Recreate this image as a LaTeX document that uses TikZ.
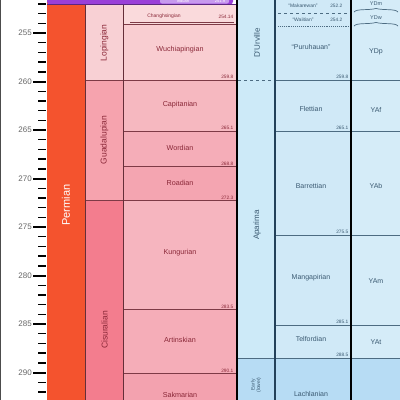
\documentclass[tikz,border=0pt]{standalone}
\usepackage{fontspec}
\setmainfont{Liberation Sans}
\definecolor{perm}{HTML}{F4532E}
\definecolor{trias}{HTML}{9A3FD8}
\definecolor{induan}{HTML}{C79AEE}
\definecolor{loping}{HTML}{F8D0D4}
\definecolor{guada}{HTML}{F6A3AE}
\definecolor{cisur}{HTML}{F37D8E}
\definecolor{chang}{HTML}{FADADC}
\definecolor{wuchi}{HTML}{F9CDD1}
\definecolor{capit}{HTML}{F6B8C0}
\definecolor{wordi}{HTML}{F5ADB8}
\definecolor{roadi}{HTML}{F4A5B1}
\definecolor{kungu}{HTML}{F6B5BF}
\definecolor{artin}{HTML}{F5ADB8}
\definecolor{sakma}{HTML}{F3A2AF}
\definecolor{bluea}{HTML}{CDEAF8}
\definecolor{blueb}{HTML}{D0E9F7}
\definecolor{bluec}{HTML}{D5ECF8}
\definecolor{blued}{HTML}{B7DCF4}
\definecolor{pinkline}{HTML}{7E3A46}
\definecolor{pinktext}{HTML}{8A2838}
\definecolor{navy}{HTML}{23415A}
\definecolor{blueline}{HTML}{4D6C82}
\definecolor{bluetext}{HTML}{3B5A72}
\tikzset{
  axlab/.style={anchor=east,text=black!60,font=\fontsize{8}{9}\selectfont,inner sep=0pt},
  majtick/.style={line width=2pt,black},
  mintick/.style={line width=1.4pt,black},
  epochlab/.style={rotate=90,text=pinktext,font=\fontsize{8.5}{9}\selectfont,inner sep=0pt},
  agelab/.style={text=pinktext,font=\fontsize{7.2}{8}\selectfont,inner sep=0pt},
  numlab/.style={anchor=south east,text=pinktext,font=\fontsize{4.8}{5}\selectfont,inner sep=0.5pt},
  nzlab/.style={text=bluetext,font=\fontsize{7}{8}\selectfont,inner sep=0pt},
  nznum/.style={anchor=south east,text=bluetext,font=\fontsize{4.8}{5}\selectfont,inner sep=0.5pt},
  serieslab/.style={rotate=90,text=bluetext,font=\fontsize{8}{9}\selectfont,inner sep=0pt},
  pline/.style={pinkline,line width=0.9pt},
  bline/.style={blueline,line width=0.9pt},
}
\begin{document}
\begin{tikzpicture}[x=1pt,y=-1pt]
\useasboundingbox (0,0) rectangle (400,400);
\fill[white] (0,0) rectangle (400,400);
\draw[black!70,line width=0.8pt] (0.4,0) -- (0.4,400);
% axis ticks
\foreach \t in {252,...,293}{
  \pgfmathsetmacro{\yy}{33+(\t-255)*9.7}
  \pgfmathtruncatemacro{\md}{mod(\t,5)}
  \ifnum\md=0
    \draw[majtick] (33,\yy) -- (46,\yy);
  \else
    \draw[mintick] (38,\yy) -- (46,\yy);
  \fi
}
\foreach \t/\yy in {255/33,260/81.5,265/130,270/178.5,275/227,280/275.5,285/324,290/372.5}{
  \node[axlab] (ax\t) at (32,\yy) {\t};
}
% Permian column
\fill[perm] (47,0) rectangle (85,400);
\node[rotate=90,text=white,font=\fontsize{11}{12}\selectfont,inner sep=0pt] (permian) at (66,205) {Permian};
% epochs
\fill[loping] (86,5) rectangle (123,80);
\fill[guada] (86,80) rectangle (123,200.8);
\fill[cisur] (86,200.8) rectangle (123,400);
\node[epochlab] (lop) at (104.5,43) {Lopingian};
\node[epochlab] (gua) at (104.5,140) {Guadalupian};
\node[epochlab] (cis) at (104.5,330) {Cisuralian};
% ages
\fill[chang] (124,5) rectangle (236,24.7);
\fill[wuchi] (124,24.7) rectangle (236,79.6);
\fill[capit] (124,79.6) rectangle (236,131);
\fill[wordi] (124,131) rectangle (236,166.9);
\fill[roadi] (124,166.9) rectangle (236,200.8);
\fill[kungu] (124,200.8) rectangle (236,309.5);
\fill[artin] (124,309.5) rectangle (236,373.5);
\fill[sakma] (124,373.5) rectangle (236,400);
% pink borders
\draw[pline] (86,80) -- (236,80);
\draw[pline] (86,200.8) -- (236,200.8);
\foreach \yy in {24.7,131,166.9,309.5,373.5}{\draw[pline] (124,\yy) -- (236,\yy);}
\draw[pline,line width=0.6pt] (130,22) -- (234,22);
\draw[pinkline!80!black,line width=1.4pt] (85.3,0) -- (85.3,400);
\draw[pinkline!80!black,line width=1.2pt] (123.3,0) -- (123.3,400);
% Triassic band
\fill[trias,rounded corners=3pt] (47,-4) rectangle (233,4.5);
\fill[induan,rounded corners=2pt] (160,-3) rectangle (229,3.5);
\node[text=white,font=\fontsize{4}{4}\selectfont,inner sep=0pt] (ind) at (183,1.5) {Induan};
\node[text=white,font=\fontsize{4}{4}\selectfont,inner sep=0pt] (indn) at (220,1.5) {251.9};
\draw[trias!60!black,line width=0.8pt] (47,4.8) -- (236,4.8);
% age labels
\node[agelab,font=\fontsize{5}{5}\selectfont] (cha) at (164,16.5) {Changhsingian};
\node[numlab,anchor=east] (chan) at (234,16.5) {254.14};
\node[agelab] (wuc) at (180,50) {Wuchiapingian};
\node[agelab] (cap) at (180,105) {Capitanian};
\node[agelab] (wor) at (180,148) {Wordian};
\node[agelab] (roa) at (180,183) {Roadian};
\node[agelab] (kun) at (180,253) {Kungurian};
\node[agelab] (art) at (180,340) {Artinskian};
\node[agelab] (sak) at (180,395) {Sakmarian};
\node[numlab] (n1) at (234,79) {259.8};
\node[numlab] (n2) at (234,130.4) {265.1};
\node[numlab] (n3) at (234,166.3) {268.8};
\node[numlab] (n4) at (234,200.2) {272.3};
\node[numlab] (n5) at (234,308.9) {283.5};
\node[numlab] (n6) at (234,372.9) {290.1};
% NZ columns
\fill[bluea] (238,0) rectangle (274,400);
\fill[blueb] (275,0) rectangle (351,400);
\fill[bluec] (352,0) rectangle (400,400);
\fill[blued] (238,358) rectangle (400,400);
\draw[bline,dashed] (238,80) -- (274,80);
\foreach \yy in {80,131,235,325,358}{\draw[bline] (275,\yy) -- (400,\yy);}
\draw[bline] (238,358) -- (274,358);
\draw[bline,dashed,line width=0.6pt] (278,13) -- (349,13);
\draw[bline,densely dotted,line width=0.7pt] (278,26) -- (349,26);
% braces in code column
\draw[bline,line width=0.7pt] (354,12) .. controls (357,8.5) and (368,10.5) .. (376,8.5) .. controls (384,10.5) and (395,8.5) .. (398,12);
\draw[bline,line width=0.7pt] (354,26) .. controls (357,22.5) and (368,24.5) .. (376,22.5) .. controls (384,24.5) and (395,22.5) .. (398,26);
% vertical separators
\draw[black,line width=1.6pt] (237,0) -- (237,400);
\draw[navy,line width=1.8pt] (275,0) -- (275,400);
\draw[black,line width=1.4pt] (351,0) -- (351,400);
% NZ labels
\node[serieslab] (durv) at (257,43) {D'Urville};
\node[serieslab] (apar) at (257,225) {Aparima};
\node[serieslab,font=\fontsize{5}{5.5}\selectfont,align=center] (early) at (256,385) {Early\\(lower)};
\node[nzlab,font=\fontsize{5}{5}\selectfont] (mak) at (303,5.5) {“Makarewan”};
\node[nznum,anchor=east] (makn) at (343,5.5) {252.2};
\node[nzlab,font=\fontsize{5}{5}\selectfont] (wai) at (303,19.5) {“Waiitian”};
\node[nznum,anchor=east] (wain) at (343,19.5) {254.2};
\node[nzlab] (pur) at (311,47) {“Puruhauan”};
\node[nzlab] (fle) at (311,109) {Flettian};
\node[nzlab] (bar) at (311,186) {Barrettian};
\node[nzlab] (man) at (311,278) {Mangapirian};
\node[nzlab] (tel) at (311,339) {Telfordian};
\node[nzlab] (lac) at (311,394) {Lachlanian};
\node[nznum] (p1) at (349,79.4) {259.8};
\node[nznum] (p2) at (349,130.4) {265.1};
\node[nznum] (p3) at (349,234.4) {275.5};
\node[nznum] (p4) at (349,324.4) {285.1};
\node[nznum] (p5) at (349,357.4) {288.5};
\node[nzlab,font=\fontsize{5.5}{6}\selectfont] (ydm) at (376,4) {YDm};
\node[nzlab,font=\fontsize{5.5}{6}\selectfont] (ydw) at (376,18) {YDw};
\node[nzlab] (ydp) at (376,52) {YDp};
\node[nzlab] (yaf) at (376,110) {YAf};
\node[nzlab] (yab) at (376,186) {YAb};
\node[nzlab] (yam) at (376,281) {YAm};
\node[nzlab] (yat) at (376,342) {YAt};
\end{tikzpicture}
\end{document}
